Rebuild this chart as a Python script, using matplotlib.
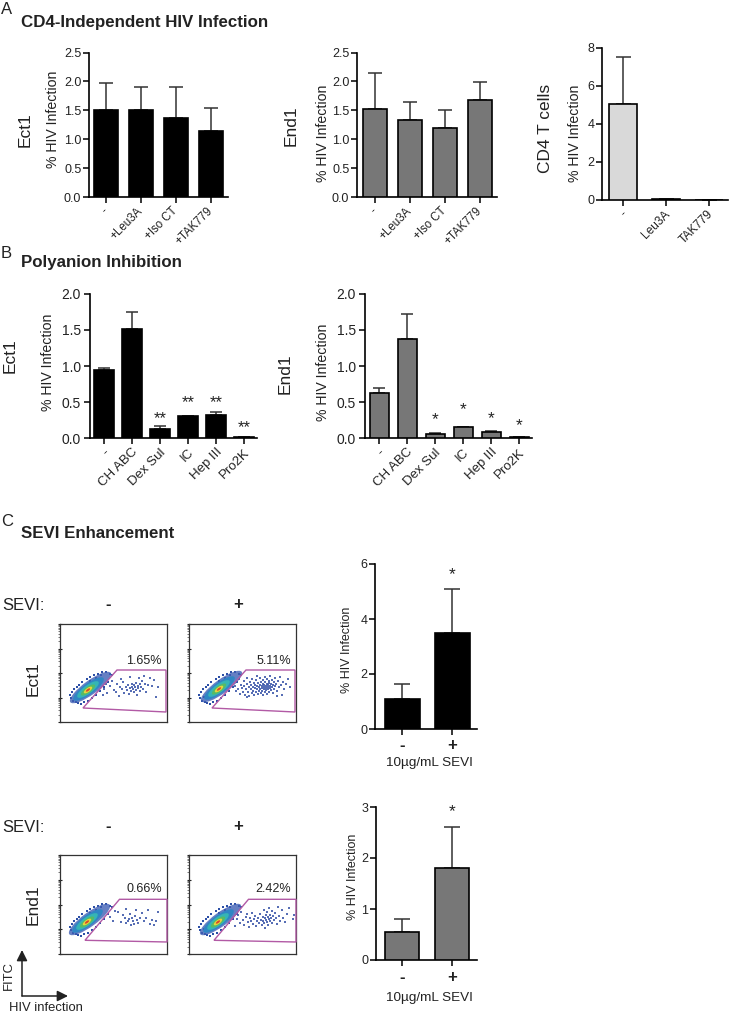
import matplotlib
matplotlib.use('Agg')
import matplotlib.pyplot as plt
from matplotlib.patches import Ellipse, Polygon
import numpy as np

plt.rcParams['font.family'] = ['Liberation Sans', 'DejaVu Sans']

W, H = 730, 1014

# panel A
a_labels = ['-', '+Leu3A', '+Iso CT', '+TAK779']
a_ect = [1.50, 1.51, 1.37, 1.15]
a_ect_top = [1.97, 1.90, 1.91, 1.54]
a_end = [1.52, 1.33, 1.19, 1.67]
a_end_top = [2.15, 1.64, 1.51, 1.99]
a_cd4_labels = ['-', 'Leu3A', 'TAK779']
a_cd4 = [5.03, 0.03, 0.01]
a_cd4_top = [7.55, 0.03, 0.01]

# panel B
b_labels = ['-', 'CH ABC', 'Dex Sul', 'IC', 'Hep III', 'Pro2K']
b_ect = [0.94, 1.52, 0.13, 0.30, 0.32, 0.01]
b_ect_top = [0.97, 1.75, 0.16, 0.31, 0.36, 0.01]
b_ect_star = [None, None, 0.29, 0.51, 0.51, 0.17]
b_end = [0.62, 1.37, 0.06, 0.157, 0.083, 0.014]
b_end_top = [0.70, 1.72, 0.065, 0.157, 0.10, 0.014]
b_end_star = [None, None, 0.27, 0.417, 0.296, 0.19]

# panel C bars
c_labels = ['-', '+']
c_ect = [1.1, 3.5]
c_ect_top = [1.65, 5.1]
c_end = [0.55, 1.8]
c_end_top = [0.8, 2.6]

# flow plots, dots (panel units)
ect_neg = [(43,27),(44,33),(46,38),(47,29),(50,36),(52,41),(54,32),(56,30),(57,38),(59,26),(60,35),(62,33),
           (63,40),(64,29),(66,35),(67,32),(68,37),(69,28),(70,34),(71,31),(72,38),(72,35),(73,33),(74,37),
           (74,30),(75,35),(76,39),(76,32),(77,27),(78,36),(78,34),(79,44),(80,31),(80,38),(81,35),(82,41),
           (83,33),(84,46),(85,38),(86,30),(88,37),(90,44),(92,36),(94,42),(96,25),(98,35),(70,45),(61,43)]
ect_pos = [(46,36),(47,31),(48,40),(49,33),(50,43),(51,28),(52,37),(53,34),(54,30),(55,41),(55,36),(56,27),
           (57,33),(58,38),(58,44),(59,30),(60,35),(60,26),(61,40),(62,33),(62,37),(63,29),(63,43),(64,35),
           (64,31),(65,39),(65,27),(66,34),(66,37),(67,42),(67,30),(68,36),(68,33),(69,39),(69,28),(70,35),
           (70,31),(71,44),(71,37),(71,33),(72,40),(72,29),(73,36),(73,34),(73,31),(74,38),(74,42),(74,27),
           (75,35),(75,33),(75,37),(76,30),(76,40),(76,45),(77,36),(77,34),(77,32),(78,38),(78,43),(78,28),
           (79,35),(79,37),(79,33),(80,41),(80,30),(80,39),(81,36),(81,34),(81,46),(82,38),(82,32),(83,42),
           (83,35),(84,37),(84,29),(85,40),(85,33),(86,44),(86,36),(87,38),(88,31),(89,41),(90,35),(91,45),
           (92,37),(93,27),(94,40),(95,33),(97,38),(99,43),(101,35),(88,26),(68,46),(58,25)]
end_neg = [(48,40),(50,37),(53,33),(55,43),(58,42),(61,32),(63,39),(65,36),(66,31),(68,33),(69,35),(70,40),
           (71,29),(72,36),(73,33),(74,30),(75,38),(76,44),(77,34),(78,31),(80,36),(82,41),(84,33),(86,36),
           (88,44),(90,30),(92,34),(94,29),(96,33),(98,42),(66,45)]
end_pos = [(46,28),(48,35),(49,39),(51,31),(52,42),(54,34),(55,29),(57,37),(58,40),(59,32),(60,27),(61,36),
           (62,33),(63,41),(64,30),(65,35),(66,38),(67,28),(68,33),(69,36),(70,31),(71,40),(72,34),(73,29),
           (74,37),(74,33),(75,44),(75,31),(76,36),(76,26),(77,39),(77,34),(78,32),(78,42),(79,37),(79,29),
           (80,35),(80,46),(81,33),(81,39),(82,36),(83,31),(83,43),(84,38),(85,34),(86,41),(87,36),(88,30),
           (89,47),(90,38),(91,33),(93,44),(94,36),(96,32),(98,40),(100,46),(104,35),(105,39)]
fringe = [(10,27),(11,24),(12,30),(13,21),(14,33),(15,25),(16,20),(17,35),(18,19),(19,37),(21,18),(22,40),
          (24,20),(27,43),(28,21),(30,45),(32,24),(34,47),(36,27),(38,48),(40,31),(42,50),(44,35),(46,50),
          (48,40),(50,48),(52,47),(36,44),(30,41),(41,47)]
flow_pct = ['1.65%', '5.11%', '0.66%', '2.42%']

BLACK = '#000000'
GRAY = '#777777'
LIGHT = '#d9d9d9'
TXT = '#222222'

fig = plt.figure(figsize=(W / 100, H / 100), dpi=100)

# whole figure layer in pixels for free text and arrows
page = fig.add_axes([0, 0, 1, 1], zorder=5)
page.set_xlim(0, W)
page.set_ylim(H, 0)
page.axis('off')
page.patch.set_alpha(0)


def px_axes(left, top, right, bottom):
    return fig.add_axes([left / W, 1 - bottom / H, (right - left) / W, (bottom - top) / H])


def bars(box, ticks_px, vals, tops, ymax, yticks, yfmt, labels, color, bw, cap, fs_y=9, fs_x=8.3,
         rot=45, lw=1.2, xpad=4.5, ypad=1, shift=0):
    left, top, right, bottom = box
    ax = px_axes(left, top, right, bottom)
    step = ticks_px[1] - ticks_px[0]
    xs = np.arange(len(vals))
    ax.bar(xs, vals, width=bw / step, color=color, edgecolor=BLACK, linewidth=lw, zorder=3)
    err = [max(t - v, 0) for t, v in zip(tops, vals)]
    ax.errorbar(xs, vals, yerr=[[0] * len(vals), err], fmt='none', ecolor='#333333', elinewidth=1.1,
                capsize=cap, capthick=1.1, zorder=2)
    ax.set_xlim((left - ticks_px[0]) / step, (right - ticks_px[0]) / step)
    ax.set_ylim(0, ymax)
    ax.set_yticks(yticks)
    ax.set_yticklabels([yfmt % t for t in yticks], fontsize=fs_y, color=TXT)
    ax.set_xticks(xs)
    if rot:
        # tick labels can't be nudged sideways, so place them by hand under each tick
        ax.set_xticklabels([])
        for x, lab in zip(xs, labels):
            ax.annotate(lab, xy=(x, 0), xycoords=ax.get_xaxis_transform(),
                        xytext=(shift * 0.72, -(4.5 + xpad)), textcoords='offset points',
                        rotation=rot, ha='right', va='center', rotation_mode='anchor',
                        fontsize=fs_x, color=TXT)
    else:
        ax.set_xticklabels(labels, fontsize=12, fontweight='bold', color=TXT)
    ax.tick_params(axis='y', length=4.5, width=1.1, pad=ypad)
    ax.tick_params(axis='x', length=4.5, width=1.1, pad=xpad)
    ax.spines['top'].set_visible(False)
    ax.spines['right'].set_visible(False)
    ax.spines['left'].set_linewidth(1.2)
    ax.spines['bottom'].set_linewidth(1.2)
    ax.patch.set_alpha(0)
    return ax


bars((89, 52.5, 228, 197), [106, 141, 176, 210], a_ect, a_ect_top, 2.5, [0, .5, 1, 1.5, 2, 2.5], '%.1f',
     a_labels, BLACK, 24, 5)
bars((357, 52.5, 497, 197), [375, 410, 445, 479], a_end, a_end_top, 2.5, [0, .5, 1, 1.5, 2, 2.5], '%.1f',
     a_labels, GRAY, 24, 5)
bars((602, 48, 728, 200), [623, 666, 708], a_cd4, a_cd4_top, 8, [0, 2, 4, 6, 8], '%d',
     a_cd4_labels, LIGHT, 28, 5.4, fs_x=8.6, shift=2)

b1 = bars((90, 294, 257, 438), [104, 132, 160, 188, 216, 244], b_ect, b_ect_top, 2, [0, .5, 1, 1.5, 2], '%.1f',
          b_labels, BLACK, 20, 4, fs_y=10, fs_x=9.5, ypad=2, shift=4)
b2 = bars((365, 294, 532, 438), [379, 407, 435, 463, 491, 519], b_end, b_end_top, 2, [0, .5, 1, 1.5, 2], '%.1f',
          b_labels, GRAY, 19, 4, fs_y=10, fs_x=9.5, ypad=2, shift=4)
for i, s in enumerate(b_ect_star):
    if s is not None:
        b1.text(i, s, '**', ha='center', va='center_baseline', fontsize=12, color=TXT)
for i, s in enumerate(b_end_star):
    if s is not None:
        b2.text(i, s, '*', ha='center', va='center_baseline', fontsize=12.5, color=TXT)

c1 = bars((375, 564, 477, 729), [402, 452], c_ect, c_ect_top, 6, [0, 2, 4, 6], '%d', c_labels, BLACK, 35, 5.8,
          rot=0, xpad=2.3)
c2 = bars((376, 807, 477, 960), [402, 452], c_end, c_end_top, 3, [0, 1, 2, 3], '%d', c_labels, GRAY, 34, 5.8,
          rot=0, xpad=3)
c1.text(1, 5.67, '*', ha='center', va='center_baseline', fontsize=12.5, color=TXT)
c2.text(1, 2.94, '*', ha='center', va='center_baseline', fontsize=12.5, color=TXT)


def flow(box, dots, gate, cx, cy, pct, pct_y):
    left, top, right, bottom = box
    ax = px_axes(left, top, right, bottom)
    w, h = right - left, bottom - top
    ax.set_xlim(0, w)
    ax.set_ylim(0, h)
    # density blob, outer to inner
    for dx, dy, ew, eh, col, al in [(2.5, 2.5, 50, 14, '#3f5fb5', 0.8), (0.5, 1, 37, 11, '#2f86c4', 1),
                                    (0, 0.5, 26, 8.5, '#35b5b5', 1), (0, 0, 17, 6, '#55bb66', 1),
                                    (0, 0, 10, 4, '#e4d63c', 1), (0, 0, 5, 2, '#d8452c', 1)]:
        ax.add_patch(Ellipse((cx + dx, cy + dy), ew, eh, angle=36, facecolor=col, edgecolor='none', alpha=al,
                             zorder=2))
    fx, fy = zip(*fringe)
    ax.scatter(fx, fy, s=0.7, marker='s', color='#2c4fa6', linewidths=0, zorder=1)
    dx, dy = zip(*dots)
    ax.scatter(dx, dy, s=0.7, marker='s', color='#3a55a8', alpha=0.85, linewidths=0, zorder=3)
    ax.add_patch(Polygon(gate, closed=True, fill=False, edgecolor='#b25aa5', linewidth=1.0, zorder=4,
                         clip_on=False))
    major = np.array([0, 1, 2, 3, 4]) * h / 4
    ax.set_yticks(major)
    minor = []
    for m in major[:-1]:
        minor += list(m + np.log10(np.arange(2, 10)) * h / 4)
    ax.set_yticks(minor, minor=True)
    ax.set_yticklabels([])
    ax.set_xticks([])
    ax.tick_params(axis='y', which='major', length=3, width=0.8, direction='inout', color='#222222')
    ax.tick_params(axis='y', which='minor', length=1.5, width=0.5, direction='out', color='#444444')
    for sp in ax.spines.values():
        sp.set_linewidth(0.9)
        sp.set_color('#333333')
    page.text(right - 5, pct_y, pct, ha='right', va='center', fontsize=9, color=TXT)


gate_top_l = [(23, 14), (57, 52), (106, 52), (106, 10)]
gate_bot = [(25, 13.7), (59.5, 54.7), (107, 54.7), (107, 12)]
flow((60, 624, 167, 722), ect_neg, gate_top_l, 28, 32, flow_pct[0], 661)
flow((189, 624, 296, 722), ect_pos, gate_top_l, 30, 33, flow_pct[1], 661)
flow((60, 855, 167, 954), end_neg, gate_bot, 27, 32, flow_pct[2], 889)
flow((189, 855, 296, 954), end_pos, gate_bot, 29, 32, flow_pct[3], 889)

# free text
for s, y in [('A', 9), ('B', 253), ('C', 521)]:
    page.text(1, y, s, fontsize=12, color=TXT, va='center')
for s, y in [('CD4-Independent HIV Infection', 22), ('Polyanion Inhibition', 262), ('SEVI Enhancement', 534)]:
    page.text(21, y, s, fontsize=12.2, fontweight='bold', color=TXT, va='center')
for s, x, y in [('Ect1', 25, 130), ('End1', 291, 126), ('CD4 T cells', 546, 128), ('Ect1', 10, 356),
                ('End1', 285, 374), ('Ect1', 33, 679), ('End1', 33, 905)]:
    page.text(x, y, s, fontsize=12.5, rotation=90, ha='center', va='center', color=TXT)
for x, y, fs in [(53, 119, 10.2), (323, 133, 10.2), (575, 133, 10.2), (48, 362, 10.2), (323, 372, 10.2),
                 (347, 650, 9), (353, 877, 9)]:
    page.text(x, y, '% HIV Infection', fontsize=fs, rotation=90, ha='center', va='center', color=TXT)
for y in [605, 827]:
    page.text(2, y, 'SEVI:', fontsize=12, va='center', color=TXT)
    page.text(108, y, '-', fontsize=12, fontweight='bold', ha='center', va='center', color=TXT)
    page.text(238, y, '+', fontsize=12, fontweight='bold', ha='center', va='center', color=TXT)
for y in [763, 998]:
    page.text(429, y, '10µg/mL SEVI', fontsize=9.7, ha='center', va='center', color=TXT)

# FITC / HIV infection arrows
for tip in [(22, 950), (68, 996)]:
    page.annotate('', xy=tip, xytext=(22, 996),
                  arrowprops=dict(arrowstyle='-|>', color='#222222', lw=1.1, mutation_scale=16,
                                  shrinkA=0, shrinkB=0))
page.text(9, 976, 'FITC', fontsize=9.4, rotation=90, ha='center', va='center', color=TXT)
page.text(9, 1008, 'HIV infection', fontsize=9.4, ha='left', va='center', color=TXT)

fig.savefig('out.png', dpi=100)
